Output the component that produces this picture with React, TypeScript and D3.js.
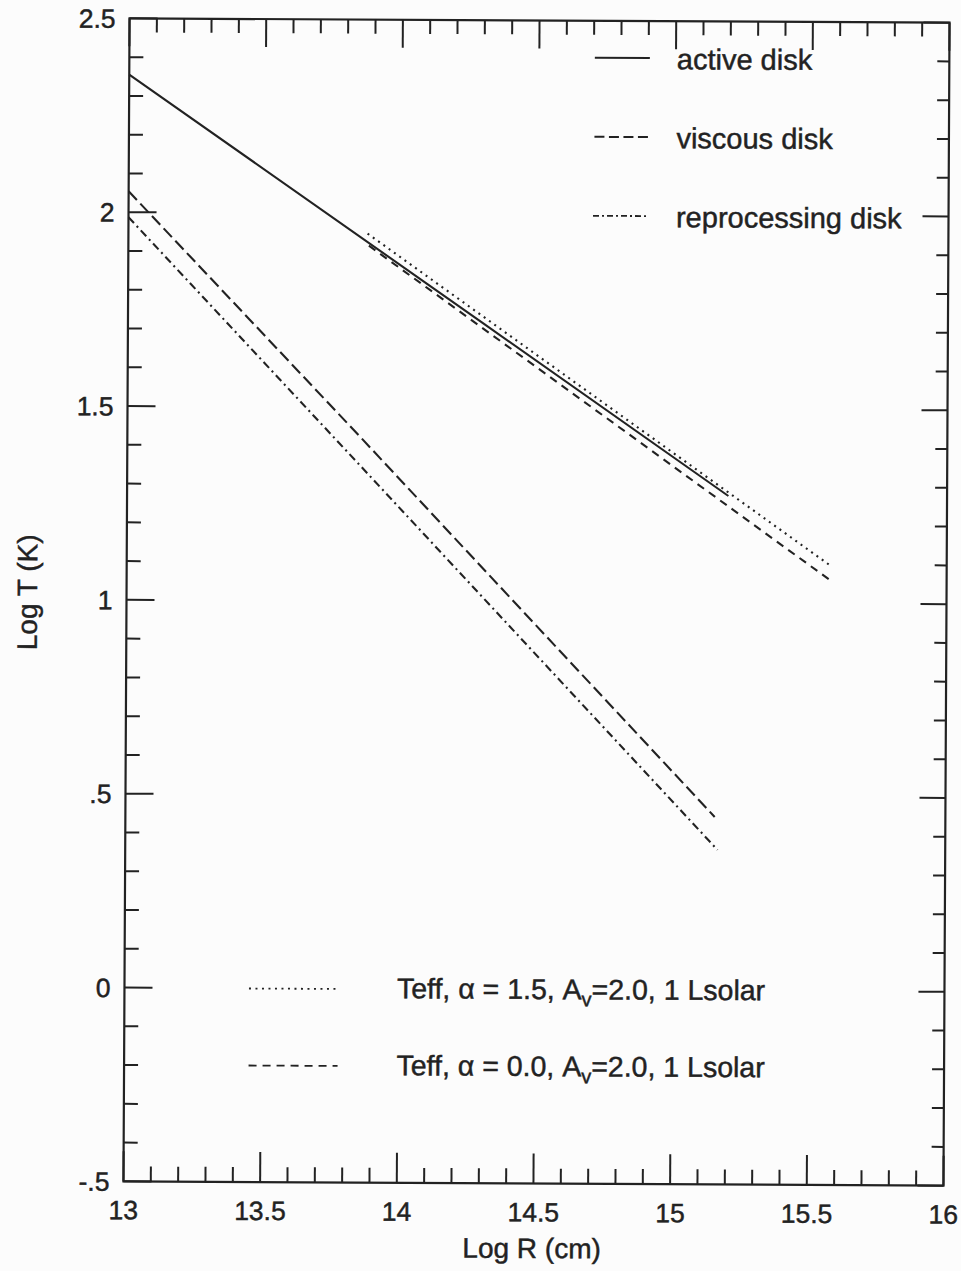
import React from "react";
import * as d3 from "d3";

// Log R (cm) vs Log T (K) for several disk temperature profiles
const xTickValues = [13, 13.5, 14, 14.5, 15, 15.5, 16];
const xTickLabels = ["13", "13.5", "14", "14.5", "15", "15.5", "16"];
const yTickValues = [2.5, 2, 1.5, 1, 0.5, 0, -0.5];
const yTickLabels = ["2.5", "2", "1.5", "1", ".5", "0", "-.5"];

const activeR = [13, 14.3, 15.2];
const activeT = [2.355, 1.718, 1.276];

const viscousR = [13, 13.85, 15.156];
const viscousT = [2.054, 1.425, 0.448];

const reprocR = [13, 13.853, 15.167];
const reprocT = [1.987, 1.349, 0.363];

const teff15R = [13.875, 15.58];
const teff15T = [1.948, 1.095];

const teff00R = [13.88, 15.58];
const teff00T = [1.917, 1.057];

const W = 961;
const H = 1271;
const left = 126.5;
const right = 946.5;
const top = 20.5;
const bottom = 1183.5;

const ink = "#222";
const font = "'Liberation Sans', Arial, Helvetica, sans-serif";

const x = d3.scaleLinear().domain([13, 16]).range([left, right]);
const y = d3.scaleLinear().domain([-0.5, 2.5]).range([bottom, top]);

const line = d3
  .line<[number, number]>()
  .x((d) => x(d[0]))
  .y((d) => y(d[1]));

const zip = (a: number[], b: number[]) => a.map((v, i) => [v, b[i]] as [number, number]);

const series = [
  { r: activeR, t: activeT, dash: "none" },
  { r: viscousR, t: viscousT, dash: "12,5" },
  { r: reprocR, t: reprocT, dash: "8,4,2,4" },
  { r: teff15R, t: teff15T, dash: "2,4.5" },
  { r: teff00R, t: teff00T, dash: "8,6" },
];

const minorX = d3.range(0, 31).map((i) => 13 + i * 0.1);
const minorY = d3.range(0, 31).map((i) => -0.5 + i * 0.1);
const isMajor = (v: number) => Math.abs(v * 2 - Math.round(v * 2)) < 1e-6;

const textStroke = { stroke: ink, strokeWidth: 0.45 };

export default function App() {
  return (
    <svg
      width={W}
      height={H}
      viewBox={`0 0 ${W} ${H}`}
      style={{ position: "absolute", left: 0, top: 0, display: "block" }}
    >
      <rect x={0} y={0} width={W} height={H} fill="#fcfcfc" />
      <g transform="rotate(0.3 536 602)" fontFamily={font} fill={ink}>
        {/* frame */}
        <rect
          x={left}
          y={top}
          width={right - left}
          height={bottom - top}
          fill="none"
          stroke={ink}
          strokeWidth={2.2}
        />
        {/* x ticks, bottom (upward) and top (downward) */}
        {minorX.map((v, i) => {
          const maj = isMajor(v);
          const px = x(v);
          return (
            <g key={"xt" + i} stroke={ink} strokeWidth={2}>
              <line x1={px} x2={px} y1={bottom} y2={bottom - (maj ? 30 : 15)} />
              <line x1={px} x2={px} y1={top} y2={top + (maj ? 28 : 14)} />
            </g>
          );
        })}
        {/* y ticks, left (rightward) and right (leftward) */}
        {minorY.map((v, i) => {
          const maj = isMajor(v);
          const py = y(v);
          return (
            <g key={"yt" + i} stroke={ink} strokeWidth={2}>
              <line x1={left} x2={left + (maj ? 28 : 14)} y1={py} y2={py} />
              <line x1={right} x2={right - (maj ? 26 : 12)} y1={py} y2={py} />
            </g>
          );
        })}
        {/* tick labels */}
        {xTickValues.map((v, i) => (
          <text
            key={"xl" + i}
            x={x(v)}
            y={bottom + 38}
            fontSize={26.5}
            textAnchor="middle"
            {...textStroke}
          >
            {xTickLabels[i]}
          </text>
        ))}
        {yTickValues.map((v, i) => (
          <text
            key={"yl" + i}
            x={left - 14}
            y={y(v)}
            dy="0.36em"
            fontSize={26.5}
            textAnchor="end"
            {...textStroke}
          >
            {yTickLabels[i]}
          </text>
        ))}
        {/* axis titles */}
        <text x={535} y={1258} fontSize={28} textAnchor="middle" {...textStroke}>
          Log R (cm)
        </text>
        <text
          transform="translate(37 595) rotate(-90)"
          fontSize={28}
          textAnchor="middle"
          {...textStroke}
        >
          Log T (K)
        </text>
        {/* curves */}
        {series.map((s, i) => (
          <path
            key={"s" + i}
            d={line(zip(s.r, s.t)) || ""}
            fill="none"
            stroke={ink}
            strokeWidth={2.1}
            strokeDasharray={s.dash}
          />
        ))}
        {/* upper legend */}
        <g fontSize={29} {...textStroke}>
          <line x1={592} x2={647} y1={57.5} y2={57.5} stroke={ink} strokeWidth={2} />
          <text x={674} y={68.5}>active disk</text>
          <line
            x1={592}
            x2={646}
            y1={136.5}
            y2={136.5}
            stroke={ink}
            strokeWidth={2}
            strokeDasharray="10,4.5"
          />
          <text x={674} y={147.5}>viscous disk</text>
          <line
            x1={591}
            x2={645}
            y1={215.5}
            y2={215.5}
            stroke={ink}
            strokeWidth={1.8}
            strokeDasharray="6,3,2,3"
          />
          <text x={674} y={226.5}>reprocessing disk</text>
        </g>
        {/* lower legend */}
        <g fontSize={28.5} {...textStroke}>
          <line
            x1={251}
            x2={340}
            y1={990}
            y2={990}
            stroke={ink}
            strokeWidth={1.8}
            strokeDasharray="2,4.5"
          />
          <text x={399} y={999}>
            Teff, α = 1.5, A<tspan dy={7} fontSize={20}>v</tspan>
            <tspan dy={-7}>=2.0, 1 Lsolar</tspan>
          </text>
          <line
            x1={251}
            x2={340}
            y1={1067}
            y2={1067}
            stroke={ink}
            strokeWidth={1.8}
            strokeDasharray="8,6"
          />
          <text x={399} y={1076}>
            Teff, α = 0.0, A<tspan dy={7} fontSize={20}>v</tspan>
            <tspan dy={-7}>=2.0, 1 Lsolar</tspan>
          </text>
        </g>
      </g>
    </svg>
  );
}
